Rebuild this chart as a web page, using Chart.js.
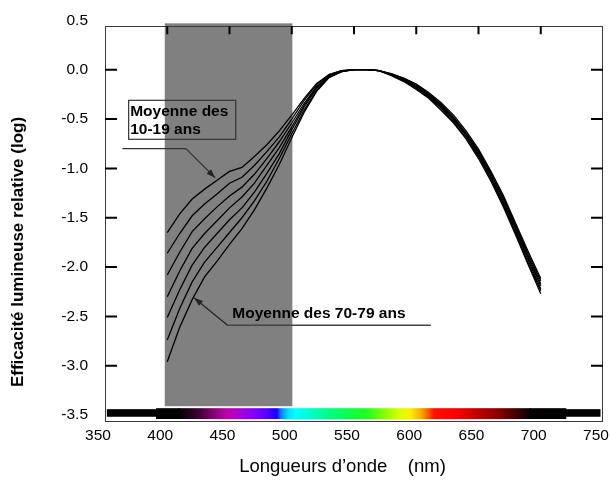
<!DOCTYPE html>
<html>
<head>
<meta charset="utf-8">
<script src="https://cdn.jsdelivr.net/npm/chart.js@4"></script>
<style>
  html, body { margin: 0; padding: 0; background: #fff; }
  canvas { display: block; }
</style>
</head>
<body>
<canvas id="chart" width="611" height="480"></canvas>
<script>
// wavelengths (nm) and log relative luminous efficiency per age group
const wavelengths = [400, 410, 420, 430, 440, 450, 460, 470, 480, 490, 500, 510, 520, 530,
  540, 550, 560, 570, 580, 590, 600, 610, 620, 630, 640, 650, 660, 670, 680, 690, 700];

const ages10to19 = [-1.65, -1.46, -1.31, -1.21, -1.12, -1.03, -0.99, -0.88, -0.76, -0.62, -0.46, -0.29, -0.14, -0.05,
  -0.01, 0, 0, -0.01, -0.06, -0.12, -0.20, -0.29, -0.41, -0.54, -0.70, -0.90, -1.13, -1.39, -1.68, -1.98, -2.27];
const ages20to29 = [-1.86, -1.66, -1.48, -1.36, -1.26, -1.15, -1.09, -0.97, -0.83, -0.68, -0.50, -0.31, -0.15, -0.05,
  -0.01, 0, 0, -0.01, -0.055, -0.11, -0.19, -0.28, -0.39, -0.53, -0.69, -0.88, -1.11, -1.37, -1.66, -1.96, -2.24];
const ages30to39 = [-2.08, -1.85, -1.64, -1.51, -1.39, -1.28, -1.19, -1.06, -0.90, -0.73, -0.54, -0.34, -0.17, -0.06,
  -0.015, 0, 0, -0.01, -0.05, -0.105, -0.18, -0.27, -0.38, -0.51, -0.67, -0.865, -1.10, -1.35, -1.64, -1.93, -2.22];
const ages40to49 = [-2.30, -2.04, -1.81, -1.66, -1.53, -1.40, -1.29, -1.15, -0.97, -0.79, -0.58, -0.36, -0.18, -0.065,
  -0.015, 0, 0, -0.01, -0.05, -0.10, -0.17, -0.26, -0.37, -0.50, -0.66, -0.85, -1.08, -1.33, -1.62, -1.91, -2.19];
const ages50to59 = [-2.51, -2.23, -1.98, -1.80, -1.66, -1.52, -1.40, -1.24, -1.05, -0.85, -0.61, -0.38, -0.19, -0.07,
  -0.02, 0, 0, -0.01, -0.045, -0.095, -0.16, -0.25, -0.36, -0.49, -0.65, -0.835, -1.06, -1.31, -1.60, -1.89, -2.17];
const ages60to69 = [-2.74, -2.42, -2.15, -1.95, -1.80, -1.65, -1.50, -1.33, -1.13, -0.90, -0.65, -0.41, -0.21, -0.075,
  -0.02, 0, 0, -0.01, -0.045, -0.09, -0.15, -0.24, -0.35, -0.48, -0.64, -0.82, -1.05, -1.29, -1.58, -1.87, -2.14];
const ages70to79 = [-2.96, -2.61, -2.33, -2.10, -1.94, -1.77, -1.61, -1.42, -1.20, -0.96, -0.69, -0.43, -0.22, -0.08,
  -0.02, 0, 0, -0.01, -0.04, -0.085, -0.145, -0.23, -0.335, -0.46, -0.62, -0.805, -1.03, -1.275, -1.56, -1.845, -2.115];

const ageLabels = ['10-19 ans', '20-29 ans', '30-39 ans', '40-49 ans', '50-59 ans', '60-69 ans', '70-79 ans'];
const ageSeries = [ages10to19, ages20to29, ages30to39, ages40to49, ages50to59, ages60to69, ages70to79];

const xTickValues = [350, 400, 450, 500, 550, 600, 650, 700, 750];
const yTickValues = [0.5, 0.0, -0.5, -1.0, -1.5, -2.0, -2.5, -3.0, -3.5];
const innerXTicks = [400, 450, 500, 550, 600, 650, 700];
const innerYTicks = [0.0, -0.5, -1.0, -1.5, -2.0, -2.5, -3.0];

// visible spectrum colours along the bottom (nm -> colour)
const spectrumStops = [
  [409, '#000000'], [424, '#3a0032'], [436, '#80006e'], [448, '#c000b0'], [460, '#a000e0'],
  [470, '#8000ff'], [480, '#5000ff'], [488, '#1000ff'], [491, '#0080ff'], [497, '#00e0ff'],
  [503, '#00ffff'], [516, '#00ffc0'], [530, '#00ff80'], [548, '#10ff40'], [560, '#20ff20'],
  [575, '#90ff00'], [586, '#d8ff00'], [595, '#ffee00'], [603, '#ffb000'], [608, '#ff7000'],
  [614, '#ff1000'], [630, '#ff0000'], [648, '#c00000'], [664, '#900000'], [680, '#400000'],
  [692, '#000000']
];

const FONT = '"Liberation Sans", Arial, Helvetica, sans-serif';

const arrow = (ctx, x0, y0, x1, y1) => {
  ctx.beginPath();
  ctx.moveTo(x0, y0);
  ctx.lineTo(x1, y1);
  ctx.stroke();
  const ang = Math.atan2(y1 - y0, x1 - x0);
  const len = 9, half = 3.2;
  ctx.beginPath();
  ctx.moveTo(x1, y1);
  ctx.lineTo(x1 - len * Math.cos(ang) + half * Math.sin(ang), y1 - len * Math.sin(ang) - half * Math.cos(ang));
  ctx.lineTo(x1 - len * Math.cos(ang) - half * Math.sin(ang), y1 - len * Math.sin(ang) + half * Math.cos(ang));
  ctx.closePath();
  ctx.fill();
};

const decor = {
  id: 'decor',
  beforeDatasetsDraw(chart) {
    const { ctx, scales: { x, y } } = chart;
    ctx.save();
    // grey band over 400-500 nm
    ctx.fillStyle = '#808080';
    const x0 = x.getPixelForValue(398), x1 = x.getPixelForValue(500.5);
    const y0 = y.getPixelForValue(0.47), y1 = y.getPixelForValue(-3.41);
    ctx.fillRect(x0, y0, x1 - x0, y1 - y0);
    ctx.restore();
  },
  afterDatasetsDraw(chart) {
    const { ctx, chartArea: a, scales: { x, y } } = chart;
    const px = (v) => x.getPixelForValue(v);
    const py = (v) => y.getPixelForValue(v);
    ctx.save();

    // spectrum strip
    ctx.fillStyle = '#000';
    ctx.fillRect(px(351.5), py(-3.44), px(391.5) - px(351.5), py(-3.517) - py(-3.44));
    ctx.fillRect(px(391), py(-3.43), px(410) - px(391), py(-3.54) - py(-3.43));
    ctx.fillRect(px(691), py(-3.43), px(720.5) - px(691), py(-3.54) - py(-3.43));
    ctx.fillRect(px(720), py(-3.44), px(748) - px(720), py(-3.517) - py(-3.44));
    const g0 = px(409), g1 = px(692);
    const grad = ctx.createLinearGradient(g0, 0, g1, 0);
    spectrumStops.forEach(([nm, c]) => grad.addColorStop((px(nm) - g0) / (g1 - g0), c));
    ctx.fillStyle = grad;
    ctx.fillRect(g0, py(-3.43), g1 - g0, py(-3.54) - py(-3.43));

    // frame
    ctx.strokeStyle = '#3a3a3a';
    ctx.lineWidth = 1;
    ctx.strokeRect(Math.round(a.left) + 0.5, Math.round(a.top) + 0.5, Math.round(a.width) - 1, Math.round(a.height) - 1);

    // inside ticks
    ctx.strokeStyle = '#000';
    ctx.lineWidth = 2;
    ctx.beginPath();
    innerXTicks.forEach((v) => { ctx.moveTo(px(v), a.top); ctx.lineTo(px(v), a.top + 8); });
    innerYTicks.forEach((v) => {
      ctx.moveTo(a.left, py(v)); ctx.lineTo(a.left + 12, py(v));
      ctx.moveTo(a.right, py(v)); ctx.lineTo(a.right - 12, py(v));
    });
    ctx.stroke();

    // annotation: youngest group
    ctx.strokeStyle = '#333';
    ctx.fillStyle = '#222';
    ctx.lineWidth = 1.2;
    ctx.strokeRect(px(369), py(-0.31), px(455) - px(369), py(-0.705) - py(-0.31));
    ctx.beginPath();
    ctx.moveTo(px(364), py(-0.80));
    ctx.lineTo(px(415), py(-0.80));
    ctx.stroke();
    arrow(ctx, px(415), py(-0.80), px(438.5), py(-1.095));

    // annotation: oldest group
    ctx.lineWidth = 1.4;
    ctx.strokeStyle = '#444';
    ctx.beginPath();
    ctx.moveTo(px(448.4), py(-2.59));
    ctx.lineTo(px(611.7), py(-2.59));
    ctx.stroke();
    ctx.strokeStyle = '#222';
    ctx.lineWidth = 1.2;
    arrow(ctx, px(448.4), py(-2.59), px(421.5), py(-2.31));

    ctx.fillStyle = '#000';
    ctx.font = 'bold 15.5px ' + FONT;
    ctx.textBaseline = 'middle';
    ctx.textAlign = 'left';
    ctx.fillText('Moyenne des', px(370.2), py(-0.424));
    ctx.fillText(ageLabels[0], px(370.2), py(-0.61));
    ctx.fillText('Moyenne des ' + ageLabels[6], px(452.3), py(-2.475));
    ctx.restore();
  },
  afterDraw(chart) {
    const { ctx } = chart;
    ctx.save();
    ctx.fillStyle = '#000';
    ctx.textAlign = 'center';
    ctx.textBaseline = 'middle';
    ctx.font = '18.5px ' + FONT;
    ctx.fillText('Longueurs d\u2019onde    (nm)', 342.5, 467);
    ctx.translate(18, 252);
    ctx.rotate(-Math.PI / 2);
    ctx.font = 'bold 17px ' + FONT;
    ctx.fillText('Efficacit\u00e9 lumineuse relative (log)', 0, 0);
    ctx.restore();
  }
};

const tickFont = { family: FONT, size: 15.5 };

new Chart(document.getElementById('chart'), {
  type: 'line',
  data: {
    datasets: ageSeries.map((series, i) => ({
      label: ageLabels[i],
      data: wavelengths.map((w, j) => ({ x: w, y: series[j] })),
      borderColor: '#000',
      borderWidth: 1.3,
      pointRadius: 0,
      tension: 0,
      fill: false,
    })),
  },
  options: {
    responsive: false,
    animation: false,
    layout: { padding: { left: 0, top: 22, right: 8, bottom: 0 } },
    scales: {
      x: {
        type: 'linear',
        min: 350,
        max: 750,
        afterBuildTicks: (scale) => { scale.ticks = xTickValues.map((v) => ({ value: v })); },
        afterFit: (scale) => { scale.height = 58; scale.paddingLeft = 0; scale.paddingRight = 0; },
        grid: { display: false, drawTicks: false },
        border: { display: false },
        ticks: { padding: 4, labelOffset: -7, maxRotation: 0, autoSkip: false, color: '#000', font: tickFont },
      },
      y: {
        type: 'linear',
        min: -3.57,
        max: 0.44,
        afterBuildTicks: (scale) => { scale.ticks = yTickValues.map((v) => ({ value: v })); },
        afterFit: (scale) => { scale.width = 105; },
        grid: { display: false, drawTicks: false },
        border: { display: false },
        ticks: {
          padding: 17,
          autoSkip: false,
          color: '#000',
          font: tickFont,
          callback: (v) => Number(v).toFixed(1),
        },
      },
    },
    plugins: {
      legend: { display: false },
      tooltip: { enabled: false },
    },
  },
  plugins: [decor],
});
</script>
</body>
</html>
